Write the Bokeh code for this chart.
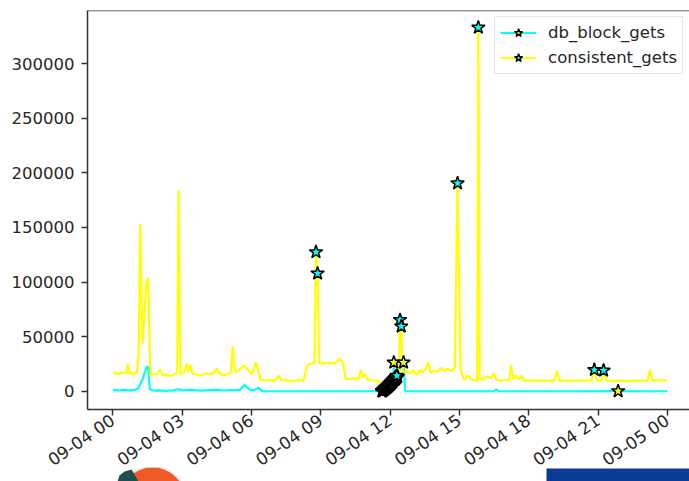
import datetime as dt
from bokeh.plotting import figure
from bokeh.layouts import column
from bokeh.models import (FixedTicker, DatetimeTickFormatter, Range1d, Legend, LegendItem,
                          Span, NumeralTickFormatter)
from bokeh.embed import file_html
from bokeh.resources import INLINE

# ---- data (hours after 09-04 00:00, values) ----
cons_hours = [0.0, 0.2, 0.35, 0.5, 0.6, 0.65, 0.75, 0.9, 1.05, 1.12, 1.18, 1.28, 1.45, 1.52, 1.62,
              1.75, 1.9, 2.03, 2.15, 2.3, 2.5, 2.6, 2.78, 2.84, 2.92,
              3.0, 3.1, 3.2, 3.27, 3.35, 3.45, 3.6, 3.8, 4.0, 4.2, 4.4, 4.5, 4.6, 4.8, 5.0, 5.1,
              5.19, 5.28, 5.4, 5.55, 5.69, 5.8, 5.95, 6.05, 6.19, 6.3, 6.4, 6.6, 6.8, 7.0, 7.2,
              7.3, 7.5, 7.7, 7.9, 8.1, 8.25, 8.4, 8.6, 8.72, 8.79, 8.86, 8.93, 9.1, 9.3, 9.45,
              9.6, 9.8, 9.95, 10.08, 10.3, 10.5, 10.62, 10.74, 10.82, 10.9, 11.0, 11.2, 11.45,
              11.6, 11.65, 11.69, 11.73, 11.77, 11.81, 11.85, 11.89, 11.93, 11.97, 12.01, 12.05,
              12.09, 12.13, 12.17, 12.21, 12.25, 12.29, 12.33, 12.38,
              12.43, 12.48, 12.55, 12.7, 12.9, 13.0, 13.15, 13.3, 13.4, 13.55, 13.65, 13.75,
              13.9, 14.05, 14.2, 14.35, 14.5, 14.65, 14.8, 14.92, 15.05, 15.2, 15.35, 15.5, 15.7,
              15.77, 15.82, 15.88, 16.0, 16.2, 16.35, 16.5, 16.6, 16.8, 17.0, 17.15, 17.23,
              17.32, 17.45, 17.55, 17.7, 17.8, 18.0, 18.3, 18.6, 18.9, 19.1, 19.22, 19.32, 19.6,
              20.0, 20.4, 20.7, 20.84, 20.95, 21.15, 21.24, 21.35, 21.7, 22.0, 22.3, 22.6, 22.9,
              23.15, 23.25, 23.35, 23.6, 24.0]
cons_values = [17500, 16000, 17500, 16500, 18000, 25000, 16000, 16500, 17000, 40000, 153000, 44000, 100000, 104000, 15000,
               15500, 16000, 20000, 15000, 15500, 14000, 15000, 17000, 184000, 16000,
               17000, 18000, 25600, 18000, 24500, 16000, 15500, 14500, 16500, 16000, 17000, 21500, 16500, 15000, 16000, 17000,
               41000, 17500, 18500, 21500, 23500, 21000, 16500, 17000, 27000, 18000, 10500, 10000, 10500, 9500, 14500,
               10000, 10500, 9500, 10000, 10500, 10000, 24000, 25500, 26000, 127500, 108000, 26000, 25500, 26500, 25500,
               26000, 29500, 27000, 11500, 11500, 12000, 11000, 19500, 12500, 16000, 11000, 10500, 10000,
               2500, 500, 1200, 2000, 2800, 3600, 4500, 5300, 6200, 7000, 7900, 8800,
               9600, 10500, 11500, 12500, 13500, 14500, 15500, 16000,
               65500, 59500, 17500, 18500, 16500, 19500, 15500, 20000, 17000, 21000, 26500, 17000,
               19000, 18000, 21500, 18500, 20500, 19000, 22000, 190500, 20000, 10500, 15000, 11000, 10000,
               10500, 333000, 10500, 11500, 14000, 12000, 16500, 10500, 10000, 10500, 10000, 24000,
               11000, 14500, 11000, 14500, 10000, 10000, 10000, 10000, 10000, 10000, 18500, 10000, 10000,
               10000, 10000, 10000, 19800, 10000, 10000, 19200, 10000, 9500, 10000, 9500, 10000, 10000,
               10000, 19800, 10000, 10500, 10000]

db_hours = [0.0, 0.3, 0.5, 0.7, 0.9, 1.1, 1.3, 1.45, 1.52, 1.6, 1.75, 2.0, 2.3, 2.6, 2.84, 3.0,
            3.4, 3.8, 4.2, 4.5, 4.8, 5.2, 5.5, 5.7, 5.9, 6.1, 6.3, 6.45, 7.0, 8.0, 9.0, 10.0,
            11.0, 11.6, 11.65, 11.69, 11.73, 11.77, 11.81, 11.85, 11.89, 11.93, 11.97, 12.01,
            12.05, 12.09, 12.13, 12.16, 12.21, 12.25, 12.29, 12.33,
            12.4, 12.58, 12.65, 13.0, 14.0, 15.0, 16.0, 16.5, 16.6, 16.7, 18.0, 20.0, 21.87,
            23.0, 24.0]
db_values = [1200, 1000, 1500, 1000, 1200, 3000, 12000, 22000, 23000, 2000, 800, 1000, 600, 1000, 2000, 1000,
             1400, 800, 1200, 1500, 900, 1300, 1500, 6000, 2000, 1000, 3500, 300, 200, 200, 200, 200,
             200, 300, 0, 500, 1100, 1700, 2400, 3100, 3800, 4600, 5400, 6200,
             7000, 7900, 8800, 26500, 10500, 11500, 12500, 13500,
             20000, 26500, 300, 200, 200, 200, 200, 300, 2000, 200, 200, 200, 300,
             200, 200]

# anomalies (stars)
cons_anom_hours = [8.79, 8.86, 11.65, 11.69, 11.73, 11.77, 11.81, 11.85, 11.89, 11.93, 11.97,
                   12.01, 12.05, 12.09, 12.13, 12.17, 12.21, 12.25, 12.29,
                   12.43, 12.48, 14.92, 15.82, 20.84, 21.24]
cons_anom_values = [127500, 108000, 500, 1200, 2000, 2800, 3600, 4500, 5300, 6200, 7000,
                    7900, 8800, 9600, 10500, 11500, 12500, 13500, 14500,
                    65500, 59500, 190500, 333000, 19800, 19200]
db_anom_hours = [11.65, 11.69, 11.73, 11.77, 11.81, 11.85, 11.89, 11.93, 11.97, 12.01, 12.05,
                 12.09, 12.13, 12.16, 12.21, 12.25, 12.29, 12.33, 12.58, 21.87]
db_anom_values = [0, 500, 1100, 1700, 2400, 3100, 3800, 4600, 5400, 6200, 7000,
                  7900, 8800, 26500, 10500, 11500, 12500, 13500, 26500, 300]

tick_hours = [0, 3, 6, 9, 12, 15, 18, 21, 24]

base = dt.datetime(2023, 9, 4)
def to_dt(hs):
    return [base + dt.timedelta(hours=h) for h in hs]
def to_ms(h):
    return (base + dt.timedelta(hours=h) - dt.datetime(1970, 1, 1)).total_seconds() * 1000.0

TXT = "#262626"
FONT = "DejaVu Sans"
FS = "16.5px"

p = figure(width=689, height=481, output_backend="svg", toolbar_location=None,
           x_axis_type="datetime",
           x_range=Range1d(to_ms(-1.10), to_ms(24.96)),
           y_range=Range1d(-16500, 348500),
           min_border_left=87, min_border_top=10, min_border_right=0, min_border_bottom=72)
p.background_fill_color = "white"
p.border_fill_color = "white"
p.outline_line_color = None
p.grid.visible = False

l_db = p.line(to_dt(db_hours), db_values, line_color="cyan", line_width=2.2)
l_cons = p.line(to_dt(cons_hours), cons_values, line_color="yellow", line_width=2.2)
s_db = p.scatter(to_dt(db_anom_hours), db_anom_values, marker="star", size=14,
                 fill_color="yellow", line_color="black", line_width=1.5)
s_cons = p.scatter(to_dt(cons_anom_hours), cons_anom_values, marker="star", size=14,
                   fill_color="cyan", line_color="black", line_width=1.5)

# top spine
p.add_layout(Span(location=348500, dimension="width", line_color="#333333", line_width=1.5))

xa = p.xaxis[0]
xa.ticker = FixedTicker(ticks=[to_ms(h) for h in tick_hours])
fmt = "%m-%d %H"
xa.formatter = DatetimeTickFormatter(microseconds=fmt, milliseconds=fmt, seconds=fmt, minsec=fmt,
                                     minutes=fmt, hourmin=fmt, hours=fmt, days=fmt, months=fmt, years=fmt)
xa.major_label_orientation = 0.6
ya = p.yaxis[0]
ya.ticker = FixedTicker(ticks=[0, 50000, 100000, 150000, 200000, 250000, 300000])
ya.formatter = NumeralTickFormatter(format="0")
for ax in (xa, ya):
    ax.axis_line_color = "#333333"
    ax.axis_line_width = 1.5
    ax.major_tick_line_color = "#333333"
    ax.major_tick_line_width = 1.5
    ax.major_tick_out = 6
    ax.major_tick_in = 0
    ax.minor_tick_line_color = None
    ax.major_label_text_font = FONT
    ax.major_label_text_font_size = FS
    ax.major_label_text_color = TXT
xa.major_label_text_font_size = "17px"
ya.major_label_standoff = 7
xa.major_label_standoff = 3

legend = Legend(items=[LegendItem(label="db_block_gets", renderers=[l_db, s_db]),
                       LegendItem(label="consistent_gets", renderers=[l_cons, s_cons])],
                location="top_right")
legend.margin = 6
legend.padding = 5
legend.spacing = 4
legend.glyph_width = 36
legend.glyph_height = 21
legend.label_standoff = 12
legend.label_text_font = FONT
legend.label_text_font_size = FS
legend.label_text_color = TXT
legend.border_line_color = "#cccccc"
legend.border_line_width = 1
legend.background_fill_alpha = 0.8
p.add_layout(legend)

# transparent strip overlaying the bottom 14 px: partial page shapes seen in the screenshot
# (its frame is aligned with the main frame, i.e. it spans canvas x 87..689)
strip = figure(width=689, height=14, output_backend="svg", toolbar_location=None,
               x_range=Range1d(87, 689), y_range=Range1d(481, 467),
               min_border=0, min_border_left=0, min_border_right=0,
               min_border_top=0, min_border_bottom=0)
strip.axis.visible = False
strip.grid.visible = False
strip.outline_line_color = None
strip.background_fill_alpha = 0
strip.border_fill_alpha = 0
strip.circle(x=[152], y=[500], radius=34, fill_color="#f05a28", line_color="#e8e8e8", line_width=2)
strip.patch(x=[117, 119, 124, 131, 138, 134], y=[481, 475, 471, 469, 481, 481],
            fill_color="#1f4f4f", line_color=None)
strip.quad(left=[546], right=[689], top=[468], bottom=[481], fill_color="#0b3a96", line_color=None)
strip.styles = {"margin-top": "-14px"}

layout = column(p, strip, spacing=0)
open("out.html", "w").write(file_html(layout, INLINE))
